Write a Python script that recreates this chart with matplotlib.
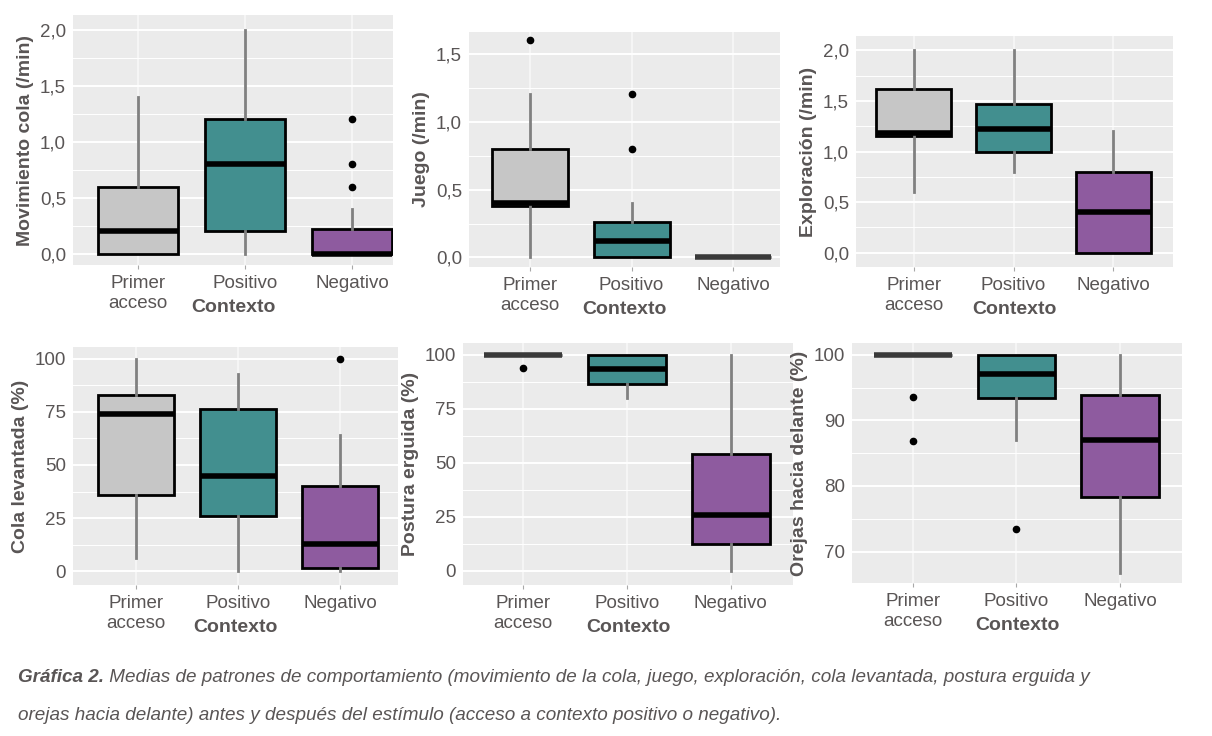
import matplotlib
matplotlib.use("Agg")
import matplotlib.pyplot as plt

# ---------------- data ----------------
categories = ["Primer\nacceso", "Positivo", "Negativo"]
x_title = "Contexto"

mov_q1 = [0.0, 0.2, 0.0]
mov_med = [0.2, 0.8, 0.0]
mov_q3 = [0.6, 1.2, 0.22]
mov_lo = [0.0, 0.0, 0.0]
mov_hi = [1.4, 2.0, 0.4]
mov_out = [[], [], [0.6, 0.8, 1.2]]

jue_q1 = [0.38, 0.0, 0.0]
jue_med = [0.40, 0.12, 0.0]
jue_q3 = [0.80, 0.26, 0.0]
jue_lo = [0.0, 0.0, 0.0]
jue_hi = [1.2, 0.4, 0.0]
jue_out = [[1.6], [0.8, 1.2], []]

exp_q1 = [1.15, 1.0, 0.0]
exp_med = [1.18, 1.22, 0.4]
exp_q3 = [1.62, 1.47, 0.8]
exp_lo = [0.6, 0.8, 0.0]
exp_hi = [2.0, 2.0, 1.2]
exp_out = [[], [], []]

col_q1 = [36, 26, 1.5]
col_med = [74, 45, 13]
col_q3 = [83, 76.5, 40]
col_lo = [6, 0, 0]
col_hi = [100, 93, 64]
col_out = [[], [], [100]]

pos_q1 = [100, 86.5, 12.5]
pos_med = [100, 93.5, 26]
pos_q3 = [100, 100, 54]
pos_lo = [100, 80, 0]
pos_hi = [100, 100, 100]
pos_out = [[94], [], []]

ore_q1 = [100, 93.4, 78.3]
ore_med = [100, 97.0, 87.0]
ore_q3 = [100, 100, 93.8]
ore_lo = [100, 87, 66.7]
ore_hi = [100, 100, 100]
ore_out = [[93.5, 86.8], [73.5], []]

ylabels = ["Movimiento cola (/min)", "Juego (/min)", "Exploración (/min)",
           "Cola levantada (%)", "Postura erguida (%)", "Orejas hacia delante (%)"]

ticks_rate_a = [0.0, 0.5, 1.0, 1.5, 2.0]
ticklabels_rate_a = ["0,0", "0,5", "1,0", "1,5", "2,0"]
ticks_rate_b = [0.0, 0.5, 1.0, 1.5]
ticklabels_rate_b = ["0,0", "0,5", "1,0", "1,5"]
ticks_pct = [0, 25, 50, 75, 100]
ticklabels_pct = ["0", "25", "50", "75", "100"]
ticks_ore = [70, 80, 90, 100]
ticklabels_ore = ["70", "80", "90", "100"]

caption_bold = "Gráfica 2."
caption_line1 = (" Medias de patrones de comportamiento (movimiento de la cola, juego, "
                 "exploración, cola levantada, postura erguida y")
caption_line2 = ("orejas hacia delante) antes y después del estímulo "
                 "(acceso a contexto positivo o negativo).")

box_colors = ["#C6C6C6", "#428F8F", "#8E5B9F"]

# ---------------- style ----------------
FONT = ["Liberation Sans", "DejaVu Sans"]
plt.rcParams["font.family"] = FONT
TXT = "#595555"

W, H = 1212, 736
fig = plt.figure(figsize=(W / 100, H / 100), dpi=100)


def pos(x0, y0, x1, y1):
    return [x0 / W, 1 - y1 / H, (x1 - x0) / W, (y1 - y0) / H]


panels = [
    dict(px=(73, 15, 393, 265), xlim=(0.39, 3.38), ylim=(-0.1, 2.13),
         q1=mov_q1, med=mov_med, q3=mov_q3, lo=mov_lo, hi=mov_hi, out=mov_out,
         ticks=ticks_rate_a, tl=ticklabels_rate_a, minor=[0.25, 0.75, 1.25, 1.75]),
    dict(px=(469, 32, 780, 267), xlim=(0.40, 3.46), ylim=(-0.07, 1.66),
         q1=jue_q1, med=jue_med, q3=jue_q3, lo=jue_lo, hi=jue_hi, out=jue_out,
         ticks=ticks_rate_b, tl=ticklabels_rate_b, minor=[0.25, 0.75, 1.25]),
    dict(px=(856, 36, 1173, 267), xlim=(0.42, 3.6), ylim=(-0.14, 2.14),
         q1=exp_q1, med=exp_med, q3=exp_q3, lo=exp_lo, hi=exp_hi, out=exp_out,
         ticks=ticks_rate_a, tl=ticklabels_rate_a, minor=[0.25, 0.75, 1.25, 1.75]),
    dict(px=(73, 347, 398, 585), xlim=(0.38, 3.57), ylim=(-6.5, 105.5),
         q1=col_q1, med=col_med, q3=col_q3, lo=col_lo, hi=col_hi, out=col_out,
         ticks=ticks_pct, tl=ticklabels_pct, minor=[12.5, 37.5, 62.5, 87.5]),
    dict(px=(463, 343, 793, 585), xlim=(0.42, 3.6), ylim=(-6.5, 105.5),
         q1=pos_q1, med=pos_med, q3=pos_q3, lo=pos_lo, hi=pos_hi, out=pos_out,
         ticks=ticks_pct, tl=ticklabels_pct, minor=[12.5, 37.5, 62.5, 87.5]),
    dict(px=(852, 343, 1182, 583), xlim=(0.41, 3.6), ylim=(65.2, 101.8),
         q1=ore_q1, med=ore_med, q3=ore_q3, lo=ore_lo, hi=ore_hi, out=ore_out,
         ticks=ticks_ore, tl=ticklabels_ore, minor=[75, 85, 95]),
]

for p, ylab in zip(panels, ylabels):
    x0, y0, x1, y1 = p["px"]
    ax = fig.add_axes(pos(x0, y0, x1, y1))
    ax.set_facecolor("#EBEBEB")
    for s in ax.spines.values():
        s.set_visible(False)
    stats = []
    for i in range(3):
        stats.append(dict(q1=p["q1"][i], med=p["med"][i], q3=p["q3"][i],
                          whislo=p["lo"][i], whishi=p["hi"][i],
                          fliers=p["out"][i]))
    bp = ax.bxp(stats, positions=[1, 2, 3], widths=0.75, patch_artist=True,
                showcaps=False,
                boxprops=dict(edgecolor="black", linewidth=2.0),
                medianprops=dict(color="black", linewidth=4.0, solid_capstyle="butt"),
                whiskerprops=dict(color="#808080", linewidth=2.0),
                flierprops=dict(marker="o", markerfacecolor="black",
                                markeredgecolor="black", markersize=4.5),
                zorder=3)
    for patch, c in zip(bp["boxes"], box_colors):
        patch.set_facecolor(c)
    for i in range(3):
        if p["q1"][i] == p["q3"][i]:
            bp["boxes"][i].set_edgecolor("#3A3A3A")
            bp["medians"][i].set_color("#3A3A3A")
    ax.set_xlim(*p["xlim"])
    ax.set_ylim(*p["ylim"])
    ax.set_yticks(p["ticks"])
    ax.set_yticklabels(p["tl"])
    ax.set_yticks(p["minor"], minor=True)
    ax.set_xticks([1, 2, 3])
    ax.set_xticklabels(categories)
    ax.grid(True, which="major", axis="y", color="white", linewidth=1.4, zorder=0)
    ax.grid(True, which="major", axis="x", color="#F8F8F8", linewidth=1.2, zorder=0)
    ax.grid(True, which="minor", axis="y", color="white", linewidth=0.7, zorder=0)
    ax.set_axisbelow(True)
    ax.tick_params(axis="both", which="both", length=3, color="#A8A8A8",
                   labelcolor=TXT, labelsize=13.5, pad=4)
    ax.tick_params(axis="y", which="minor", length=0)
    ax.tick_params(axis="y", length=0, pad=5)
    for lbl in ax.get_xticklabels():
        lbl.set_linespacing(1.25)
    ax.set_xlabel(x_title, fontsize=14, fontweight="bold", color=TXT)
    ax.xaxis.set_label_coords(0.5, -43.0 / (y1 - y0))
    ax.xaxis.label.set_va("center")
    ax.set_ylabel(ylab, fontsize=14, fontweight="bold", color=TXT, labelpad=4)

# caption, scaled to the reference width
cap_x0, cap_x1 = 18, 1095
fs = 14
t1 = fig.text(cap_x0 / W, 1 - 678 / H, caption_bold, fontsize=fs, fontweight="bold",
              fontstyle="italic", color=TXT, va="center", ha="left")
t2 = fig.text(0, 1 - 678 / H, caption_line1, fontsize=fs, fontstyle="italic",
              color=TXT, va="center", ha="left")
fig.canvas.draw()
r = fig.canvas.get_renderer()
total = t1.get_window_extent(r).width + t2.get_window_extent(r).width
fs2 = fs * (cap_x1 - cap_x0) / total
t1.set_fontsize(fs2)
t2.set_fontsize(fs2)
fig.canvas.draw()
t2.set_x(t1.get_window_extent(r).x1 / W)
fig.text(cap_x0 / W, 1 - 716 / H, caption_line2, fontsize=fs2, fontstyle="italic",
         color=TXT, va="center", ha="left")

fig.savefig("out.png", dpi=100, facecolor="white")
